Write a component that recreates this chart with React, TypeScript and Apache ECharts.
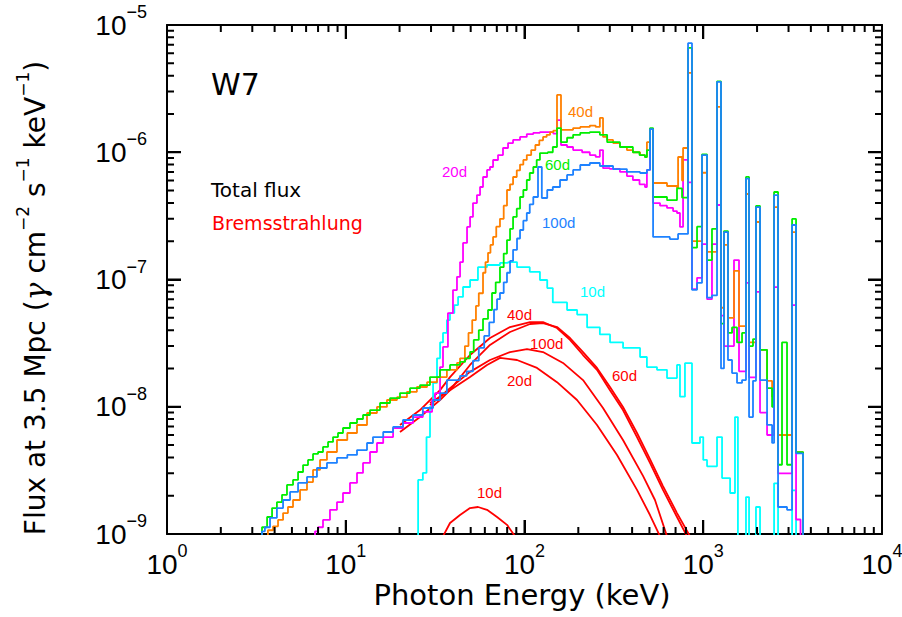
import React, { useEffect, useRef } from 'react';
import * as echarts from 'echarts';

// Photon energy (keV) vs flux (photons cm^-2 s^-1 keV^-1), step histograms: [E_left, flux]
const flux10d: number[][] = [
  [24.5, 1e-10], [25.4, 2.66e-9], [27.0, 3.02e-9], [28.3, 5.78e-9], [29.6, 1.0e-8], [30.8, 1.54e-8], [32.4, 2.4e-8],
  [33.7, 3.2e-8], [35.0, 3.8e-8], [36.8, 4.8e-8], [38.3, 5.45e-8], [40.5, 6.3e-8], [42.5, 7.3e-8], [45.3, 8.73e-8],
  [49.6, 9.91e-8], [54.9, 1.25e-7], [61.7, 1.30e-7], [72.9, 1.35e-7], [80.9, 1.37e-7], [90.8, 1.25e-7], [107, 1.15e-7],
  [122, 9.91e-8], [134, 8.57e-8], [144, 6.6e-8], [173, 5.76e-8], [197, 5.3e-8], [224, 4.2e-8], [264, 3.7e-8],
  [301, 3.2e-8], [356, 2.9e-8], [443, 2.46e-8], [484, 2.05e-8], [551, 1.95e-8], [627, 1.68e-8], [713, 2.13e-8],
  [741, 1.2e-8], [790, 2.2e-8], [865, 5.19e-9], [959, 5.78e-9], [1000, 3.82e-9], [1050, 3.4e-9], [1194, 5.78e-9],
  [1274, 2.75e-9], [1413, 2.1e-9], [1505, 8.3e-9], [1563, 1e-10], [1734, 1.95e-9], [1804, 1e-10], [1972, 1.63e-9],
  [2078, 1e-10], [2490, 2.5e-9], [2621, 1e-10], [3140, 2.2e-9], [3305, 1e-10],
];
const flux20d: number[][] = [
  [6.60, 5e-10], [6.73, 1.05e-9], [7.00, 1.13e-9], [7.46, 1.29e-9], [8.16, 1.55e-9], [8.93, 1.78e-9], [9.65, 2.10e-9],
  [10.56, 2.52e-9], [11.56, 3.02e-9], [12.49, 3.62e-9], [13.67, 4.41e-9], [14.95, 5.19e-9], [16.2, 5.78e-9],
  [18.4, 6.81e-9], [20.9, 7.45e-9], [23.8, 8.30e-9], [27.0, 9.1e-9], [30.4, 1.13e-8], [31.6, 1.28e-8], [33.7, 2.05e-8],
  [35.0, 2.95e-8], [37.3, 5.45e-8], [39.8, 8.26e-8], [41.9, 1.05e-7], [43.6, 1.37e-7], [45.3, 1.94e-7], [47.7, 2.59e-7],
  [49.6, 3.10e-7], [51.5, 3.99e-7], [54.2, 4.61e-7], [56.4, 5.33e-7], [58.6, 6.39e-7], [61.7, 7.26e-7], [64.1, 7.66e-7],
  [66.7, 8.69e-7], [71.1, 9.51e-7], [75.8, 1.08e-6], [80.9, 1.18e-6], [86.3, 1.25e-6], [94.4, 1.32e-6], [103, 1.39e-6],
  [112, 1.42e-6], [122, 1.44e-6], [134, 1.44e-6], [145, 1.40e-6], [152, 1.79e-6], [160, 1.14e-6], [173, 1.10e-6],
  [187, 1.04e-6], [210, 1.0e-6], [232, 9.5e-7], [250, 9.2e-7], [264, 1.04e-6], [275, 7.5e-7], [300, 7.4e-7],
  [342, 7.0e-7], [374, 6.5e-7], [404, 6.05e-7], [440, 5.6e-7], [472, 5.33e-7], [484, 7.26e-7], [504, 1.52e-6],
  [524, 3.99e-7], [573, 3.8e-7], [627, 3.65e-7], [678, 3.45e-7], [713, 3.33e-7], [741, 2.59e-7], [771, 8.7e-7],
  [822, 5.8e-7], [865, 8.4e-8], [923, 1.03e-7], [984, 1.9e-7], [1050, 7.0e-8], [1119, 1.9e-7], [1194, 3.85e-7],
  [1257, 5.2e-8], [1306, 3.0e-8], [1486, 1.42e-7], [1585, 1.9e-8], [1734, 9.4e-8], [1804, 1.7e-8], [1972, 8.0e-8],
  [2078, 9.0e-9], [2275, 6.0e-9], [2490, 8.7e-8], [2621, 3.0e-9], [3140, 6.3e-8], [3305, 1.3e-9], [3500, 1e-10],
];
const flux40d: number[][] = [
  [3.60, 5e-10], [3.67, 1.07e-9], [3.92, 1.15e-9], [4.18, 1.29e-9], [4.46, 1.46e-9], [4.75, 1.63e-9], [5.07, 1.85e-9],
  [5.55, 2.22e-9], [6.07, 2.56e-9], [6.56, 3.19e-9], [7.18, 3.82e-9], [7.85, 4.41e-9], [8.93, 5.48e-9], [10.2, 6.22e-9],
  [11.56, 7.19e-9], [13.15, 8.93e-9], [14.95, 9.96e-9], [17.0, 1.13e-8], [19.35, 1.19e-8], [22.0, 1.31e-8],
  [25.0, 1.43e-8], [28.5, 1.56e-8], [32.4, 1.71e-8], [36.8, 1.95e-8], [41.9, 2.21e-8], [43.6, 2.4e-8], [46.4, 3.0e-8],
  [48.6, 3.8e-8], [51.0, 4.8e-8], [53.5, 6.2e-8], [55.5, 7.8e-8], [58.6, 1.13e-7], [60.5, 1.37e-7], [62.5, 1.62e-7],
  [64.5, 1.87e-7], [66.7, 2.16e-7], [69.5, 2.6e-7], [72.9, 3.0e-7], [76.5, 3.8e-7], [79.8, 5.05e-7], [83.0, 5.6e-7],
  [86.3, 6.39e-7], [90.5, 7.2e-7], [94.4, 8.0e-7], [98.5, 8.7e-7], [103, 9.5e-7], [109, 1.04e-6], [115, 1.14e-6],
  [121, 1.24e-6], [127, 1.32e-6], [133, 1.37e-6], [139, 1.44e-6], [145, 1.48e-6], [152, 2.82e-6], [160, 1.50e-6],
  [187, 1.55e-6], [205, 1.58e-6], [232, 1.62e-6], [250, 1.58e-6], [264, 1.86e-6], [275, 1.32e-6], [290, 1.25e-6],
  [313, 1.18e-6], [342, 1.10e-6], [374, 1.04e-6], [404, 1.0e-6], [443, 9.5e-7], [472, 9.18e-7], [484, 1.20e-6],
  [504, 1.52e-6], [524, 5.73e-7], [627, 5.43e-7], [713, 5.24e-7], [723, 9.18e-7], [761, 6.0e-7], [771, 1.08e-6],
  [822, 4.2e-6], [865, 2.0e-7], [984, 6.9e-7], [1050, 1.65e-7], [1194, 2.27e-6], [1257, 6.0e-8], [1306, 1.87e-7],
  [1375, 5.0e-8], [1486, 1.17e-7], [1585, 4.3e-8], [1734, 4.7e-7], [1804, 3.2e-8], [1972, 2.83e-7], [2078, 2.8e-8],
  [2275, 1.6e-8], [2427, 1.2e-8], [2490, 3.71e-7], [2621, 6e-9], [3140, 2.36e-7], [3305, 4.4e-9], [3617, 1e-10],
];
const flux60d: number[][] = [
  [3.30, 5e-10], [3.40, 1.13e-9], [3.63, 1.36e-9], [3.87, 1.60e-9], [4.12, 1.78e-9], [4.40, 2.03e-9], [4.69, 2.43e-9],
  [5.07, 2.66e-9], [5.41, 3.07e-9], [5.77, 3.48e-9], [6.15, 3.82e-9], [6.56, 4.26e-9], [7.00, 4.41e-9], [7.46, 4.83e-9],
  [7.96, 5.29e-9], [8.49, 5.78e-9], [9.05, 6.22e-9], [9.65, 6.81e-9], [10.56, 7.45e-9], [11.56, 8.01e-9],
  [12.49, 8.61e-9], [13.67, 9.42e-9], [15.55, 1.07e-8], [17.69, 1.17e-8], [20.11, 1.28e-8], [22.88, 1.40e-8],
  [26.03, 1.48e-8], [29.60, 1.71e-8], [33.68, 1.95e-8], [38.31, 2.13e-8], [43.6, 2.25e-8], [46.5, 2.4e-8],
  [49.6, 2.7e-8], [52.0, 3.35e-8], [55.5, 4.0e-8], [58.6, 4.9e-8], [62.5, 5.76e-8], [65.8, 7.83e-8], [69.0, 9.5e-8],
  [72.9, 1.25e-7], [76.5, 1.6e-7], [79.8, 2.04e-7], [83.0, 2.5e-7], [86.3, 3.10e-7], [90.5, 3.6e-7], [94.4, 4.45e-7],
  [98.5, 5.05e-7], [103, 6.05e-7], [107, 6.87e-7], [112, 7.66e-7], [117, 8.7e-7], [122, 9.86e-7], [135, 1.0e-6],
  [144, 1.10e-6], [152, 1.55e-6], [160, 1.20e-6], [173, 1.30e-6], [187, 1.37e-6], [205, 1.42e-6], [232, 1.44e-6],
  [264, 1.37e-6], [290, 1.20e-6], [342, 1.10e-6], [404, 1.00e-6], [440, 9.5e-7], [472, 9.18e-7], [484, 1.04e-6],
  [504, 1.55e-6], [524, 4.45e-7], [627, 4.2e-7], [713, 5.2e-7], [761, 4.4e-7], [822, 6.6e-6], [865, 1.78e-7],
  [923, 2.6e-7], [984, 9.6e-7], [1050, 1.42e-7], [1119, 2.5e-7], [1194, 3.6e-6], [1257, 4.5e-8], [1306, 2.4e-7],
  [1375, 3.8e-8], [1449, 4.2e-8], [1545, 3.2e-8], [1648, 3.8e-8], [1734, 6.4e-7], [1804, 3.0e-8], [1898, 3.4e-8],
  [1972, 3.78e-7], [2078, 2.8e-8], [2275, 1.4e-8], [2427, 1.0e-8], [2490, 4.87e-7], [2621, 3.5e-9], [2758, 3.2e-8],
  [2942, 3.5e-9], [3140, 2.99e-7], [3305, 4.4e-9], [3617, 1e-10],
];
const flux100d: number[][] = [
  [3.35, 5e-10], [3.40, 1.05e-9], [3.53, 1.13e-9], [3.77, 1.34e-9], [4.12, 1.60e-9], [4.46, 1.85e-9], [4.88, 2.14e-9],
  [5.41, 2.52e-9], [6.07, 2.81e-9], [6.90, 3.30e-9], [7.85, 3.62e-9], [8.93, 3.96e-9], [10.2, 4.18e-9],
  [11.56, 4.57e-9], [13.15, 5.19e-9], [14.2, 5.78e-9], [16.2, 6.33e-9], [18.4, 6.94e-9], [20.9, 7.87e-9],
  [23.8, 8.61e-9], [27.0, 9.78e-9], [30.8, 1.13e-8], [33.7, 1.28e-8], [36.8, 1.62e-8], [41.9, 1.62e-8],
  [43.6, 1.75e-8], [47.5, 1.9e-8], [51.5, 2.3e-8], [55.5, 2.9e-8], [59.5, 3.6e-8], [63.5, 4.6e-8], [67.5, 5.8e-8],
  [70.2, 7.0e-8], [72.9, 7.83e-8], [76.5, 9.5e-8], [79.8, 1.13e-7], [83.0, 1.4e-7], [86.3, 1.71e-7], [90.8, 2.1e-7],
  [94.4, 2.45e-7], [98.5, 2.9e-7], [103, 3.33e-7], [107, 3.9e-7], [112, 4.45e-7], [119, 7.66e-7], [125, 4.37e-7],
  [134, 5.05e-7], [144, 5.33e-7], [158, 6.05e-7], [173, 6.63e-7], [187, 7.26e-7], [205, 7.94e-7], [232, 8.23e-7],
  [264, 7.8e-7], [313, 7.38e-7], [374, 7.0e-7], [443, 6.87e-7], [484, 7.26e-7], [504, 1.52e-6], [524, 2.16e-7],
  [650, 2.08e-7], [723, 2.28e-7], [822, 7.2e-6], [865, 8.3e-8], [923, 9.4e-8], [984, 9.5e-7], [1050, 7.2e-8],
  [1119, 7.5e-8], [1194, 3.57e-6], [1257, 2.0e-8], [1306, 2.36e-7], [1375, 2.33e-8], [1449, 1.84e-8],
  [1545, 1.54e-8], [1648, 1.62e-8], [1734, 6.2e-7], [1804, 8.3e-9], [1898, 1.6e-8], [1972, 3.7e-7], [2078, 1.62e-8],
  [2275, 7.2e-9], [2427, 5.2e-9], [2490, 4.6e-7], [2621, 1.63e-9], [2942, 1.55e-9], [3140, 2.68e-7], [3305, 4.3e-9],
  [3617, 1e-10],
];

// Bremsstrahlung components
const brems10d: number[][] = [
  [35.01, 9.6e-10], [38.31, 1.22e-9], [43.57, 1.41e-9], [49.56, 1.60e-9], [54.95, 1.63e-9], [61.70, 1.55e-9],
  [70.20, 1.36e-9], [79.85, 1.18e-9], [88.48, 9.6e-10],
];
const brems20d: number[][] = [
  [29.60, 1.07e-8], [38.31, 1.35e-8], [49.56, 1.71e-8], [61.70, 2.13e-8], [72.96, 2.42e-8], [90.78, 2.33e-8],
  [117.5, 2.02e-8], [152.0, 1.56e-8], [196.7, 1.13e-8], [254.4, 7.19e-9], [329.3, 4.18e-9], [426.0, 2.22e-9],
  [503.6, 1.41e-9], [572.8, 9.6e-10],
];
const brems40d: number[][] = [
  [20.11, 7.19e-9], [26.03, 9.42e-9], [33.68, 1.35e-8], [38.31, 1.71e-8], [49.56, 2.55e-8], [64.12, 3.47e-8],
  [82.97, 4.23e-8], [107.4, 4.63e-8], [126.9, 4.63e-8], [152.0, 4.16e-8], [179.7, 3.35e-8], [212.5, 2.55e-8],
  [254.4, 1.95e-8], [300.8, 1.35e-8], [355.6, 9.42e-9], [426.0, 5.78e-9], [503.6, 3.62e-9], [595.3, 2.22e-9],
  [713.2, 1.36e-9], [811.3, 9.6e-10],
];
const brems60d: number[][] = [
  [20.11, 6.33e-9], [26.03, 8.30e-9], [33.68, 1.13e-8], [38.31, 1.35e-8], [49.56, 2.13e-8], [64.12, 3.06e-8],
  [82.97, 3.87e-8], [107.4, 4.47e-8], [126.9, 4.55e-8], [152.0, 4.23e-8], [179.7, 3.47e-8], [212.5, 2.69e-8],
  [254.4, 2.02e-8], [300.8, 1.43e-8], [355.6, 9.96e-9], [426.0, 6.22e-9], [503.6, 3.88e-9], [595.3, 2.38e-9],
  [713.2, 1.46e-9], [843.3, 9.6e-10],
];
const brems100d: number[][] = [
  [29.60, 1.03e-8], [38.31, 1.40e-8], [49.56, 1.88e-8], [64.12, 2.33e-8], [82.97, 2.69e-8], [103.3, 2.84e-8],
  [126.9, 2.69e-8], [164.2, 2.21e-8], [212.5, 1.62e-8], [274.9, 9.78e-9], [355.6, 5.48e-9], [460.2, 2.86e-9],
  [537, 1.85e-9], [627, 9.6e-10],
];

const xTickExponents = ['0', '1', '2', '3', '4'];
const yTickExponents = ['−9', '−8', '−7', '−6', '−5'];
const xMajorTicks = [1, 10, 100, 1000, 10000];
const yMajorTicks = [1e-9, 1e-8, 1e-7, 1e-6, 1e-5];
const xDecades = [1, 10, 100, 1000];
const yDecades = [1e-9, 1e-8, 1e-7, 1e-6];
const minorMultipliers = [2, 3, 4, 5, 6, 7, 8, 9];

const C10 = '#00ffff';
const C20 = '#ff00ff';
const C40 = '#ff8000';
const C60 = '#00ee00';
const C100 = '#1e82ff';
const CRED = '#ff0000';

const X_MIN = 1, X_MAX = 1e4, Y_MIN = 1e-9, Y_MAX = 1e-5;

// Tick lengths expressed as multiplicative steps on the log scales
// (plot is 715 px wide for 4 decades and 509 px high for 4 decades)
const PX_PER_DEC_X = 715 / 4;
const PX_PER_DEC_Y = 509 / 4;
const stepX = (px: number) => Math.pow(10, px / PX_PER_DEC_X);
const stepY = (px: number) => Math.pow(10, px / PX_PER_DEC_Y);

function buildTickData(): (number[] | null)[] {
  const out: (number[] | null)[] = [];
  const addX = (v: number, px: number) => {
    out.push([v, Y_MIN], [v, Y_MIN * stepY(px)], null);
    out.push([v, Y_MAX], [v, Y_MAX / stepY(px)], null);
  };
  const addY = (v: number, px: number) => {
    out.push([X_MIN, v], [X_MIN * stepX(px), v], null);
    out.push([X_MAX, v], [X_MAX / stepX(px), v], null);
  };
  xMajorTicks.forEach((v) => addX(v, 14));
  yMajorTicks.forEach((v) => addY(v, 14));
  xDecades.forEach((d) => minorMultipliers.forEach((m) => addX(m * d, 7)));
  yDecades.forEach((d) => minorMultipliers.forEach((m) => addY(m * d, 7)));
  return out;
}

function buildOption() {
  const richLabel = {
    b: { fontSize: 28, lineHeight: 44, fontFamily: 'Liberation Sans', color: '#000' },
    s: { fontSize: 18, lineHeight: 18, verticalAlign: 'top', fontFamily: 'Liberation Sans', color: '#000' },
  };
  const tickStyle = { show: true, inside: true, length: 14, lineStyle: { color: '#000', width: 2 } };
  const lineStyleAxis = { show: true, onZero: false, lineStyle: { color: '#000', width: 2 } };

  const histLine = (name: string, data: number[][], color: string) => ({
    name, type: 'line', data, step: 'end', showSymbol: false, symbol: 'none',
    lineStyle: { color, width: 1.8 }, itemStyle: { color },
  });
  const bremsLine = (name: string, data: number[][]) => ({
    name, type: 'line', data, showSymbol: false, symbol: 'none',
    lineStyle: { color: CRED, width: 1.8 }, itemStyle: { color: CRED },
  });
  const lbl = (text: string, left: number, top: number, color: string, size = 15, family = 'Liberation Sans') => ({
    type: 'text', left, top, silent: true, style: { text, fill: color, font: `${size}px "${family}"` },
  });

  return {
    animation: false,
    backgroundColor: '#fff',
    grid: { left: 167, right: 20, top: 25, bottom: 83, outerBoundsMode: 'none' },
    xAxis: [
      {
        type: 'log', min: X_MIN, max: X_MAX, position: 'bottom', splitLine: { show: false },
        axisLine: lineStyleAxis, axisTick: tickStyle,
        axisLabel: { show: true, margin: 8, formatter: (_v: number, i: number) => `{b|10}{s|${xTickExponents[i]}}`, rich: richLabel },
      },
      {
        type: 'log', min: X_MIN, max: X_MAX, position: 'top', splitLine: { show: false },
        axisLine: lineStyleAxis, axisTick: tickStyle, axisLabel: { show: false },
      },
    ],
    yAxis: [
      {
        type: 'log', min: Y_MIN, max: Y_MAX, position: 'left', splitLine: { show: false },
        axisLine: lineStyleAxis, axisTick: tickStyle,
        axisLabel: { show: true, margin: 20, formatter: (_v: number, i: number) => `{b|10}{s|${yTickExponents[i]}}`, rich: richLabel },
      },
      {
        type: 'log', min: Y_MIN, max: Y_MAX, position: 'right', splitLine: { show: false },
        axisLine: lineStyleAxis, axisTick: tickStyle, axisLabel: { show: false },
      },
    ],
    series: [
      bremsLine('Brems 10d', brems10d),
      bremsLine('Brems 20d', brems20d),
      bremsLine('Brems 100d', brems100d),
      bremsLine('Brems 60d', brems60d),
      bremsLine('Brems 40d', brems40d),
      histLine('10d', flux10d, C10),
      histLine('20d', flux20d, C20),
      histLine('40d', flux40d, C40),
      histLine('60d', flux60d, C60),
      histLine('100d', flux100d, C100),
      {
        name: 'frameTicks',
        type: 'line',
        data: buildTickData(),
        connectNulls: false,
        showSymbol: false,
        symbol: 'none',
        silent: true,
        clip: false,
        z: 5,
        lineStyle: { color: '#000', width: 2, cap: 'butt' },
        itemStyle: { color: '#000' },
      },
    ],
    graphic: [
      lbl('W7', 211, 69, '#000', 30, 'DejaVu Sans'),
      lbl('Total flux', 211, 180, '#000', 20, 'DejaVu Sans'),
      lbl('Bremsstrahlung', 212, 213, CRED, 19, 'DejaVu Sans'),
      lbl('20d', 442, 164, C20),
      lbl('40d', 568, 104, C40),
      lbl('60d', 545, 157, C60),
      lbl('100d', 542, 215, C100),
      lbl('10d', 580, 284, C10),
      lbl('40d', 507, 307, CRED),
      lbl('100d', 530, 336, CRED),
      lbl('60d', 612, 368, CRED),
      lbl('20d', 507, 373, CRED),
      lbl('10d', 477, 485, CRED),
      {
        type: 'text', x: 522, y: 595, silent: true,
        style: { text: 'Photon Energy (keV)', fill: '#000', font: '29px "DejaVu Sans"', align: 'center', verticalAlign: 'middle' },
      },
      {
        type: 'text', x: 35, y: 298, rotation: Math.PI / 2, silent: true,
        style: {
          text: '{t|Flux at 3.5 Mpc (}{g|γ}{t| cm}{s|−2}{t| s}{s|−1}{t| keV}{s|−1}{t|)}',
          align: 'center', verticalAlign: 'middle',
          rich: {
            t: { fontSize: 28, lineHeight: 42, fontFamily: 'DejaVu Sans', fill: '#000' },
            g: { fontSize: 30, lineHeight: 42, fontFamily: 'DejaVu Serif', fontStyle: 'italic', fill: '#000' },
            s: { fontSize: 17, lineHeight: 17, verticalAlign: 'top', fontFamily: 'DejaVu Sans', fill: '#000' },
          },
        },
      },
    ],
  };
}

export default function App() {
  const ref = useRef<HTMLDivElement>(null);
  useEffect(() => {
    if (!ref.current) return;
    const chart = echarts.init(ref.current, null, { renderer: 'svg' });
    chart.setOption(buildOption() as any);
    return () => chart.dispose();
  }, []);
  return (
    <div
      ref={ref}
      style={{ position: 'fixed', left: 0, top: 0, width: 902, height: 617, background: '#fff' }}
    />
  );
}
